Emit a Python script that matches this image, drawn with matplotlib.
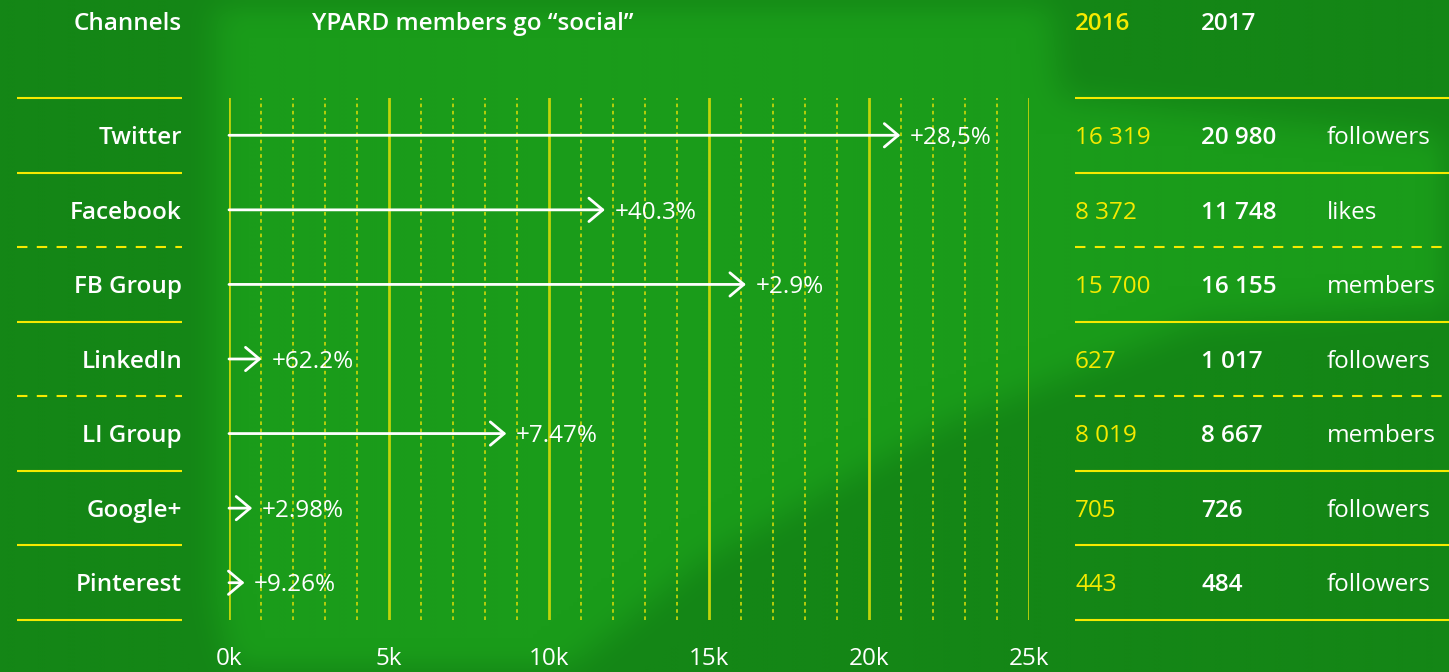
import numpy as np
import matplotlib.pyplot as plt
from matplotlib.path import Path
from matplotlib.transforms import blended_transform_factory, offset_copy

plt.rcParams['font.family'] = ['Open Sans', 'DejaVu Sans']

# data
channels = ['Twitter', 'Facebook', 'FB Group', 'LinkedIn', 'LI Group', 'Google+', 'Pinterest']
v2016 = [16319, 8372, 15700, 627, 8019, 705, 443]
v2017 = [20980, 11748, 16155, 1017, 8667, 726, 484]
growth = ['+28,5%', '+40.3%', '+2.9%', '+62.2%', '+7.47%', '+2.98%', '+9.26%']
units = ['followers', 'likes', 'members', 'followers', 'members', 'followers', 'followers']
xticks = [0, 5000, 10000, 15000, 20000, 25000]
xticklabels = ['0k', '5k', '10k', '15k', '20k', '25k']
dashed_after = [1, 3]  # separator below these rows is dashed

W, H = 1449, 672
fig = plt.figure(figsize=(W / 100, H / 100), dpi=100)

dark = np.array([20, 134, 22]) / 255.
light = np.array([26, 156, 26]) / 255.
fig.patch.set_facecolor(dark)

# soft brush-stroke background (blurred polygon mask)
step = 4
gx, gy = np.meshgrid(np.arange(0, W, step), np.arange(0, H, step))
pts = np.column_stack([gx.ravel(), gy.ravel()])
stroke = Path([(215, 0), (1050, 0), (1060, 95), (1250, 115), (1449, 135),
               (1449, 300), (1200, 320), (950, 420), (700, 560), (560, 672),
               (230, 672), (215, 600)])
mask = stroke.contains_points(pts).reshape(gx.shape).astype(float)
k = np.ones(9) / 9.
for _ in range(2):
    mask = np.apply_along_axis(lambda r: np.convolve(r, k, mode='same'), 1, mask)
    mask = np.apply_along_axis(lambda c: np.convolve(c, k, mode='same'), 0, mask)
img = dark[None, None, :] * (1 - mask[..., None]) + light[None, None, :] * mask[..., None]
bg = fig.add_axes([0, 0, 1, 1], zorder=-10)
bg.imshow(np.clip(img, 0, 1), extent=[0, W, H, 0], aspect='auto', interpolation='bilinear')
bg.set_xlim(0, W)
bg.set_ylim(H, 0)
bg.axis('off')

yellow = '#f5ea00'
grid_c = '#c0d40a'
white = '#ffffff'
fs = 17.5

x0, x1 = 229 / W, 1029 / W
y_bot, y_top = (H - 620) / H, (H - 98) / H
ax = fig.add_axes([x0, y_bot, x1 - x0, y_top - y_bot])
ax.set_facecolor('none')
ax.set_xlim(0, 25000)
ax.set_ylim(len(channels) - 0.5, -0.5)
for s in ax.spines.values():
    s.set_visible(False)
ax.set_xticks(xticks)
ax.set_xticklabels(xticklabels)
ax.tick_params(axis='x', length=0, pad=19.5, labelsize=fs, labelcolor=white)
ax.set_yticks([])

# grid lines
for kk in range(0, 26):
    if kk % 5 == 0:
        ax.axvline(kk * 1000, color=grid_c, lw=2, zorder=1)
    else:
        ax.axvline(kk * 1000, color=grid_c, lw=1.3, ls=(0, (2, 2)), zorder=1)

# arrows + labels
for i in range(len(channels)):
    ax.annotate('', xy=(v2017[i], i), xytext=(0, i),
                arrowprops=dict(arrowstyle='->,head_length=0.5,head_width=0.42',
                                mutation_scale=20, color=white, lw=2,
                                shrinkA=0, shrinkB=0), zorder=3)
    ax.annotate(growth[i], xy=(v2017[i], i), xytext=(7, -2), textcoords='offset points',
                ha='left', va='center', color=white, fontsize=fs, zorder=4)

# left labels and table
tr = offset_copy(blended_transform_factory(fig.transFigure, ax.transData),
                 fig=fig, y=-2, units='points')
for i in range(len(channels)):
    ax.text(182 / W, i, channels[i], transform=tr, ha='right', va='center',
            color=white, fontsize=fs, fontweight='semibold')
    ax.text(1075 / W, i, f'{v2016[i]:,}'.replace(',', ' '), transform=tr, ha='left',
            va='center', color=yellow, fontsize=fs)
    ax.text(1201 / W, i, f'{v2017[i]:,}'.replace(',', ' '), transform=tr, ha='left',
            va='center', color=white, fontsize=fs, fontweight='semibold')
    ax.text(1327 / W, i, units[i], transform=tr, ha='left', va='center',
            color=white, fontsize=fs)

# separators
tr_line = blended_transform_factory(fig.transFigure, ax.transData)
for b in range(len(channels) + 1):
    yb = b - 0.5
    ls = (0, (5, 4.5)) if (b - 1) in dashed_after else '-'
    for xa, xb in [(17 / W, 182 / W), (1075 / W, 1.0)]:
        ax.plot([xa, xb], [yb, yb], transform=tr_line, color=yellow, lw=1.5, ls=ls,
                clip_on=False, solid_capstyle='butt')

# headers
hy = 1 - 24 / H
fig.text(182 / W, hy, 'Channels', ha='right', va='center', color=white,
         fontsize=fs, fontweight='semibold')
fig.text(312 / W, hy, 'YPARD members go \u201csocial\u201d', ha='left', va='center',
         color=white, fontsize=fs, fontweight='semibold')
fig.text(1075 / W, hy, '2016', ha='left', va='center', color=yellow,
         fontsize=fs, fontweight='semibold')
fig.text(1201 / W, hy, '2017', ha='left', va='center', color=white,
         fontsize=fs, fontweight='semibold')

fig.savefig('out.png', dpi=100, facecolor=fig.get_facecolor())
